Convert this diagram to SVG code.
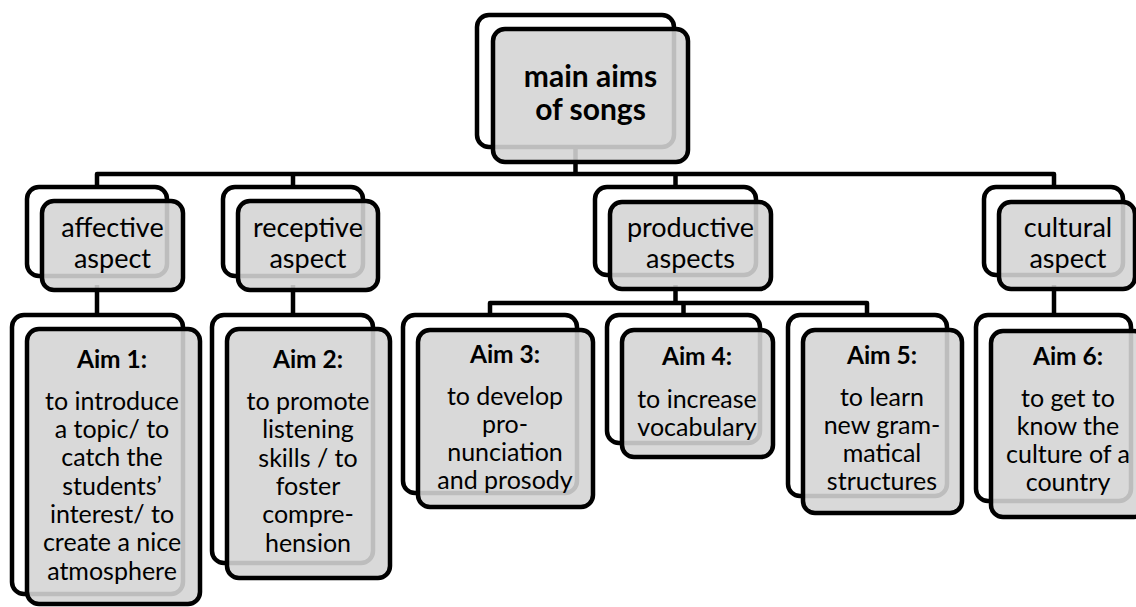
<svg xmlns="http://www.w3.org/2000/svg" width="1136" height="607" viewBox="0 0 1136 607">
<style>
.c{fill:none;stroke:#000;stroke-width:4.5;stroke-linejoin:round}
.b{fill:#fff;stroke:#000;stroke-width:4.5}
.f{fill:#d4d4d4;fill-opacity:0.89;stroke:#000;stroke-width:4.5}
text{font-family:Lato,"Liberation Sans",sans-serif;fill:#000;text-anchor:middle}
.t{font-size:30px;font-weight:bold}
.l2{font-size:27px}
.h{font-size:24.5px;font-weight:bold}
.x{font-size:25px}
</style>
<rect width="1136" height="607" fill="#fff"/>
<g id="connectors">
<path class="c" d="M575.5 140V174M97 187V174H1054V187M293 174V187M675.5 174V187"/>
<path class="c" d="M97 285V315M293 285V315M675.5 285V303M490 315V303H867V315M683.5 303V315M1054 285V315"/>
</g>
<g id="n-main">
<rect class="b" x="477" y="15" width="197" height="132" rx="12"/>
<rect class="f" x="493" y="29" width="195" height="133" rx="12"/>
<text class="t" x="590.5" y="87">main aims</text>
<text class="t" x="590.5" y="120">of songs</text>
</g>
<g id="n-affective">
<rect class="b" x="27" y="187" width="140" height="89" rx="12"/>
<rect class="f" x="42" y="201" width="141" height="89" rx="12"/>
<text class="l2" x="112.5" y="237">affective</text>
<text class="l2" x="112.5" y="268">aspect</text>
</g>
<g id="n-receptive">
<rect class="b" x="223" y="187" width="140" height="89" rx="12"/>
<rect class="f" x="238" y="201" width="140" height="89" rx="12"/>
<text class="l2" x="308" y="237">receptive</text>
<text class="l2" x="308" y="268">aspect</text>
</g>
<g id="n-productive">
<rect class="b" x="595" y="187" width="161" height="88" rx="12"/>
<rect class="f" x="610" y="202" width="161" height="87" rx="12"/>
<text class="l2" x="690.5" y="237">productive</text>
<text class="l2" x="690.5" y="268">aspects</text>
</g>
<g id="n-cultural">
<rect class="b" x="984" y="187" width="139" height="88" rx="12"/>
<rect class="f" x="999" y="202" width="136" height="87" rx="12"/>
<text class="l2" x="1068" y="237">cultural</text>
<text class="l2" x="1068" y="268">aspect</text>
</g>
<g id="n-aim1">
<rect class="b" x="12" y="315" width="171" height="279" rx="12"/>
<rect class="f" x="27" y="329" width="173" height="275" rx="12"/>
<text class="h" x="112" y="368">Aim 1:</text>
<text class="x" x="112" y="410">to introduce</text>
<text class="x" x="112" y="438">a topic/ to</text>
<text class="x" x="112" y="466">catch the</text>
<text class="x" x="112" y="495">students’</text>
<text class="x" x="112" y="523">interest/ to</text>
<text class="x" x="112" y="551">create a nice</text>
<text class="x" x="112" y="580">atmosphere</text>
</g>
<g id="n-aim2">
<rect class="b" x="212" y="315" width="161" height="248" rx="12"/>
<rect class="f" x="227" y="329" width="163" height="249" rx="12"/>
<text class="h" x="308" y="368">Aim 2:</text>
<text class="x" x="308" y="410">to promote</text>
<text class="x" x="308" y="438">listening</text>
<text class="x" x="308" y="467">skills / to</text>
<text class="x" x="308" y="495">foster</text>
<text class="x" x="308" y="523">compre-</text>
<text class="x" x="308" y="552">hension</text>
</g>
<g id="n-aim3">
<rect class="b" x="403" y="315" width="174" height="178" rx="12"/>
<rect class="f" x="418" y="330" width="175" height="177" rx="12"/>
<text class="h" x="505" y="363">Aim 3:</text>
<text class="x" x="505" y="405">to develop</text>
<text class="x" x="505" y="433">pro-</text>
<text class="x" x="505" y="461">nunciation</text>
<text class="x" x="505" y="489">and prosody</text>
</g>
<g id="n-aim4">
<rect class="b" x="607" y="315" width="153" height="128" rx="12"/>
<rect class="f" x="622" y="330" width="151" height="127" rx="12"/>
<text class="h" x="697" y="365">Aim 4:</text>
<text class="x" x="697" y="408">to increase</text>
<text class="x" x="697" y="436">vocabulary</text>
</g>
<g id="n-aim5">
<rect class="b" x="788" y="315" width="159" height="181" rx="12"/>
<rect class="f" x="803" y="330" width="159" height="183" rx="12"/>
<text class="h" x="882" y="364">Aim 5:</text>
<text class="x" x="882" y="406">to learn</text>
<text class="x" x="882" y="434">new gram-</text>
<text class="x" x="882" y="462">matical</text>
<text class="x" x="882" y="490">structures</text>
</g>
<g id="n-aim6">
<rect class="b" x="976" y="315" width="155" height="186" rx="12"/>
<rect class="f" x="991" y="331" width="155" height="186" rx="12"/>
<text class="h" x="1068" y="365">Aim 6:</text>
<text class="x" x="1068" y="407">to get to</text>
<text class="x" x="1068" y="435">know the</text>
<text class="x" x="1068" y="463">culture of a</text>
<text class="x" x="1068" y="491">country</text>
</g>
</svg>
